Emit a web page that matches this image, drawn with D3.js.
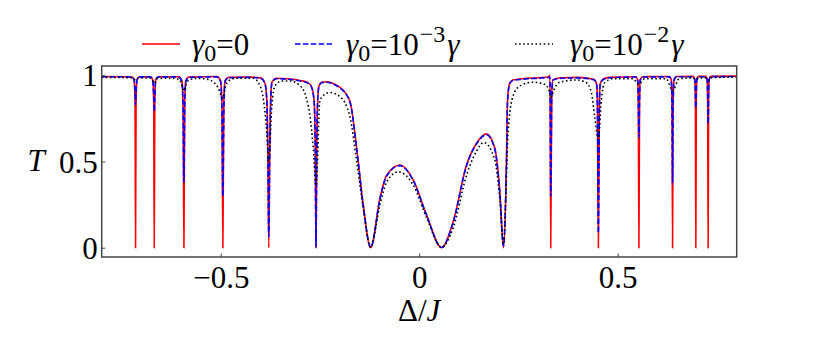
<!DOCTYPE html>
<html>
<head>
<meta charset="utf-8">
<script src="https://d3js.org/d3.v7.min.js"></script>
<style>
  body { margin: 0; background: #fff; }
  svg text { font-family: "Liberation Serif", "Times New Roman", serif; fill: #000; }
</style>
</head>
<body>
<div id="chart"></div>
<script>
// data: [Δ/J, T]
const seriesRed = [
  [-0.80,0.993],
  [-0.725,0.992],[-0.7185,0.975],[-0.716,0.85],[-0.7147,0],[-0.7134,0.85],[-0.711,0.975],[-0.704,0.992],
  [-0.678,0.992],[-0.6715,0.975],[-0.669,0.85],[-0.6676,0],[-0.6662,0.85],[-0.6637,0.975],[-0.657,0.992],
  [-0.606,0.992],[-0.598,0.97],[-0.595,0.85],[-0.5929,0],[-0.5908,0.85],[-0.588,0.97],[-0.58,0.99],
  [-0.51,0.993],[-0.5005,0.97],[-0.4972,0.86],[-0.4947,0],[-0.4922,0.86],[-0.489,0.97],[-0.48,0.988],
  [-0.43,0.99],[-0.40,0.985],
  [-0.389,0.957],[-0.384,0.86],[-0.3815,0.6],[-0.379,0],[-0.3765,0.6],[-0.3735,0.9],[-0.371,0.96],
  [-0.36,0.983],[-0.33,0.98],[-0.30,0.97],[-0.28,0.957],[-0.272,0.938],[-0.265,0.86],[-0.262,0.6],
  [-0.260,0],[-0.258,0.6],[-0.2555,0.87],[-0.2525,0.94],[-0.246,0.96],[-0.233,0.963],[-0.225,0.96],
  [-0.21,0.945],[-0.1995,0.93],[-0.1745,0.85],[-0.1575,0.577],[-0.141,0.248],[-0.1223,0],
  [-0.0989,0.287],[-0.082,0.42],[-0.0486,0.48],[-0.0151,0.393],[0.0186,0.19],[0.0564,0],
  [0.0856,0.15],[0.1193,0.48],[0.1444,0.606],[0.1696,0.66],[0.1905,0.577],[0.2031,0.325],[0.2124,0],
  [0.2199,0.5],[0.2225,0.85],[0.228,0.955],[0.236,0.973],[0.26,0.98],[0.30,0.986],[0.326,0.99],
  [0.3295,1.0],[0.3314,0],[0.334,0.9],[0.337,0.975],[0.36,0.986],[0.40,0.988],[0.44,0.977],
  [0.447,0.95],[0.449,0.85],[0.4514,0],[0.454,0.85],[0.456,0.95],[0.463,0.977],[0.48,0.988],
  [0.545,0.992],[0.5505,0.975],[0.552,0.85],[0.5536,0],[0.5552,0.85],[0.557,0.975],[0.563,0.992],
  [0.63,0.993],[0.635,0.975],[0.637,0.85],[0.6384,0],[0.6398,0.85],[0.642,0.975],[0.648,0.993],
  [0.69,0.994],[0.6945,0.975],[0.6958,0.85],[0.697,0],[0.6982,0.85],[0.6995,0.975],[0.704,0.994],
  [0.7225,0.994],[0.7255,0.975],[0.7268,0.85],[0.728,0],[0.7292,0.85],[0.7305,0.975],[0.735,0.994],
  [0.80,0.995]
];

const seriesBlue = [
  [-0.80,0.992],
  [-0.725,0.991],[-0.7185,0.974],[-0.716,0.9],[-0.7147,0.83],[-0.7134,0.9],[-0.711,0.974],[-0.704,0.991],
  [-0.678,0.991],[-0.6715,0.972],[-0.669,0.88],[-0.6676,0.79],[-0.6662,0.88],[-0.6637,0.972],[-0.657,0.991],
  [-0.606,0.99],[-0.598,0.965],[-0.595,0.8],[-0.5929,0.38],[-0.5908,0.8],[-0.588,0.965],[-0.58,0.988],
  [-0.51,0.991],[-0.5005,0.965],[-0.4972,0.8],[-0.4947,0.30],[-0.4922,0.8],[-0.489,0.965],[-0.48,0.986],
  [-0.43,0.988],[-0.40,0.983],
  [-0.389,0.955],[-0.384,0.85],[-0.3815,0.55],[-0.379,0.064],[-0.3765,0.55],[-0.3735,0.89],[-0.371,0.955],
  [-0.36,0.98],[-0.33,0.977],[-0.30,0.967],[-0.28,0.954],[-0.272,0.935],[-0.265,0.855],[-0.262,0.6],
  [-0.260,0.005],[-0.258,0.6],[-0.2555,0.865],[-0.2525,0.935],[-0.246,0.957],[-0.233,0.96],[-0.225,0.957],
  [-0.21,0.942],[-0.1995,0.927],[-0.1745,0.845],[-0.1575,0.572],[-0.141,0.245],[-0.1223,0.001],
  [-0.0989,0.284],[-0.082,0.416],[-0.0486,0.476],[-0.0151,0.39],[0.0186,0.188],[0.0564,0.001],
  [0.0856,0.148],[0.1193,0.476],[0.1444,0.602],[0.1696,0.655],[0.1905,0.572],[0.2031,0.32],[0.2124,0.01],
  [0.2199,0.5],[0.2225,0.845],[0.228,0.952],[0.236,0.97],[0.26,0.977],[0.30,0.983],[0.326,0.987],
  [0.3295,0.99],[0.3314,0.30],[0.334,0.88],[0.337,0.972],[0.36,0.983],[0.40,0.985],[0.44,0.974],
  [0.447,0.945],[0.449,0.8],[0.4514,0.085],[0.454,0.8],[0.456,0.945],[0.463,0.974],[0.48,0.986],
  [0.545,0.99],[0.5505,0.972],[0.552,0.85],[0.5536,0.64],[0.5552,0.85],[0.557,0.972],[0.563,0.99],
  [0.63,0.991],[0.635,0.97],[0.637,0.8],[0.6384,0.37],[0.6398,0.8],[0.642,0.97],[0.648,0.991],
  [0.69,0.992],[0.6945,0.974],[0.6958,0.9],[0.697,0.81],[0.6982,0.9],[0.6995,0.974],[0.704,0.992],
  [0.7225,0.992],[0.7255,0.974],[0.7268,0.88],[0.728,0.72],[0.7292,0.88],[0.7305,0.974],[0.735,0.992],
  [0.80,0.993]
];

const seriesBlack = [
  [-0.80,0.988],[-0.75,0.987],
  [-0.722,0.985],[-0.7147,0.972],[-0.708,0.984],
  [-0.676,0.984],[-0.6676,0.955],[-0.659,0.982],
  [-0.625,0.983],[-0.607,0.978],[-0.600,0.96],[-0.5929,0.91],[-0.586,0.955],[-0.578,0.975],
  [-0.56,0.982],[-0.535,0.978],[-0.52,0.963],[-0.507,0.93],[-0.4947,0.866],[-0.488,0.935],
  [-0.48,0.968],[-0.4637,0.983],[-0.4183,0.983],[-0.4007,0.938],[-0.3926,0.86],[-0.384,0.667],
  [-0.379,0.5],[-0.3714,0.82],[-0.3632,0.94],[-0.3463,0.967],[-0.3254,0.967],[-0.3003,0.94],
  [-0.2833,0.86],[-0.275,0.76],[-0.2667,0.57],[-0.260,0.36],[-0.2499,0.86],[-0.225,0.9],
  [-0.1995,0.876],[-0.1745,0.76],[-0.1575,0.5],[-0.141,0.23],[-0.1223,0.003],[-0.0989,0.25],
  [-0.082,0.38],[-0.0528,0.44],[-0.0151,0.364],[0.0186,0.175],[0.0564,0.003],[0.0856,0.115],
  [0.1193,0.42],[0.1444,0.56],[0.1628,0.61],[0.1905,0.51],[0.2031,0.28],[0.2124,0.02],
  [0.224,0.67],[0.2365,0.88],[0.2534,0.938],[0.2869,0.96],[0.3163,0.948],[0.3289,0.9],
  [0.3314,0.87],[0.3417,0.928],[0.3543,0.96],[0.396,0.973],[0.4212,0.957],[0.4338,0.9],
  [0.442,0.764],[0.4514,0.63],[0.459,0.86],[0.4673,0.957],[0.4882,0.98],[0.5385,0.98],
  [0.5536,0.948],[0.568,0.98],[0.6226,0.98],[0.6384,0.91],[0.655,0.98],[0.69,0.985],
  [0.697,0.975],[0.704,0.985],[0.721,0.985],[0.728,0.97],[0.735,0.986],[0.80,0.99]
];

const xTicks = [-0.5, 0, 0.5];
const xTickLabels = ["\u22120.5", "0", "0.5"];
const yTicks = [0, 0.5, 1];
const yTickLabels = ["0", "0.5", "1"];

// 1. Dimensions
const W = 830, H = 350;
const margin = { top: 66, left: 101.7 },
  width = 635,
  height = 191;
const FONT = 31;

const svg = d3.select("#chart")
  .append("svg")
  .attr("width", W)
  .attr("height", H);

const g = svg.append("g")
  .attr("transform", `translate(${margin.left}, ${margin.top})`);

// 2. Scales
const x = d3.scaleLinear().domain([-0.8, 0.8]).range([0, width]);
const y = d3.scaleLinear().domain([-0.054, 1.054]).range([height, 0]);

g.append("clipPath").attr("id", "clip")
  .append("rect").attr("width", width).attr("height", height);

// 3. Lines
const line = d3.line()
  .x(d => x(d[0]))
  .y(d => y(d[1]))
  .curve(d3.curveMonotoneX);

const styles = [
  { data: seriesRed,   color: "#ff0000", dash: null },
  { data: seriesBlue,  color: "#0000ff", dash: "5.5,2.4" },
  { data: seriesBlack, color: "#000000", dash: "1.6,2.5" }
];

styles.forEach(s => {
  g.append("path")
    .datum(s.data)
    .attr("clip-path", "url(#clip)")
    .attr("fill", "none")
    .attr("stroke", s.color)
    .attr("stroke-width", 1.6)
    .attr("stroke-dasharray", s.dash)
    .attr("d", line);
});

// 4. Axes (ticks inward)
const xAxis = g.append("g")
  .attr("transform", `translate(0, ${height})`)
  .call(d3.axisBottom(x).tickValues(xTicks).tickSizeInner(-3.5).tickSizeOuter(0).tickFormat((d, i) => xTickLabels[i]));
const yAxis = g.append("g")
  .call(d3.axisLeft(y).tickValues(yTicks).tickSizeInner(-3.5).tickSizeOuter(0).tickFormat((d, i) => yTickLabels[i]));

[xAxis, yAxis].forEach(a => {
  a.attr("font-family", null);
  a.select(".domain").remove();
  a.selectAll(".tick line").attr("stroke", "#444").attr("stroke-width", 1);
  a.selectAll(".tick text")
    .attr("font-size", FONT)
    .attr("fill", "#000");
});
xAxis.selectAll(".tick text").attr("y", 0).attr("dy", 31);
yAxis.selectAll(".tick text").attr("x", -4).attr("dy", "0.34em");

// frame
g.append("rect")
  .attr("width", width)
  .attr("height", height)
  .attr("fill", "none")
  .attr("stroke", "#444")
  .attr("stroke-width", 1.5);

// 5. Axis labels
g.append("text")
  .attr("x", x(0))
  .attr("y", height + 64)
  .attr("text-anchor", "middle")
  .attr("font-size", FONT)
  .call(t => {
    t.append("tspan").text("\u0394/");
    t.append("tspan").attr("font-style", "italic").text("J");
  });

svg.append("text")
  .attr("x", 36)
  .attr("y", 171)
  .attr("text-anchor", "middle")
  .attr("font-size", FONT)
  .attr("font-style", "italic")
  .text("T");

// 6. Legend
const legendItems = [
  { sx: 142, tx: 192, color: "#ff0000", dash: null, exp: null },
  { sx: 295, tx: 346, color: "#0000ff", dash: "5.5,2.4", exp: "\u22123" },
  { sx: 515, tx: 570, color: "#000000", dash: "1.6,2.5", exp: "\u22122" }
];
const legY = 44;
const SUB = 24;
legendItems.forEach(l => {
  svg.append("line")
    .attr("x1", l.sx).attr("x2", l.sx + 38)
    .attr("y1", legY).attr("y2", legY)
    .attr("stroke", l.color)
    .attr("stroke-width", 1.6)
    .attr("stroke-dasharray", l.dash);

  const t = svg.append("text")
    .attr("x", l.tx)
    .attr("y", legY + 11)
    .attr("font-size", FONT);
  t.append("tspan").attr("font-style", "italic").text("\u03b3");
  t.append("tspan").attr("font-size", SUB).attr("dy", 6).text("0");
  if (l.exp === null) {
    t.append("tspan").attr("dy", -6).text("=0");
  } else {
    t.append("tspan").attr("dy", -6).text("=10");
    t.append("tspan").attr("font-size", SUB).attr("dx", 1).attr("dy", -13).text(l.exp);
    t.append("tspan").attr("font-style", "italic").attr("dx", 2).attr("dy", 13).text("\u03b3");
  }
});
</script>
</body>
</html>
